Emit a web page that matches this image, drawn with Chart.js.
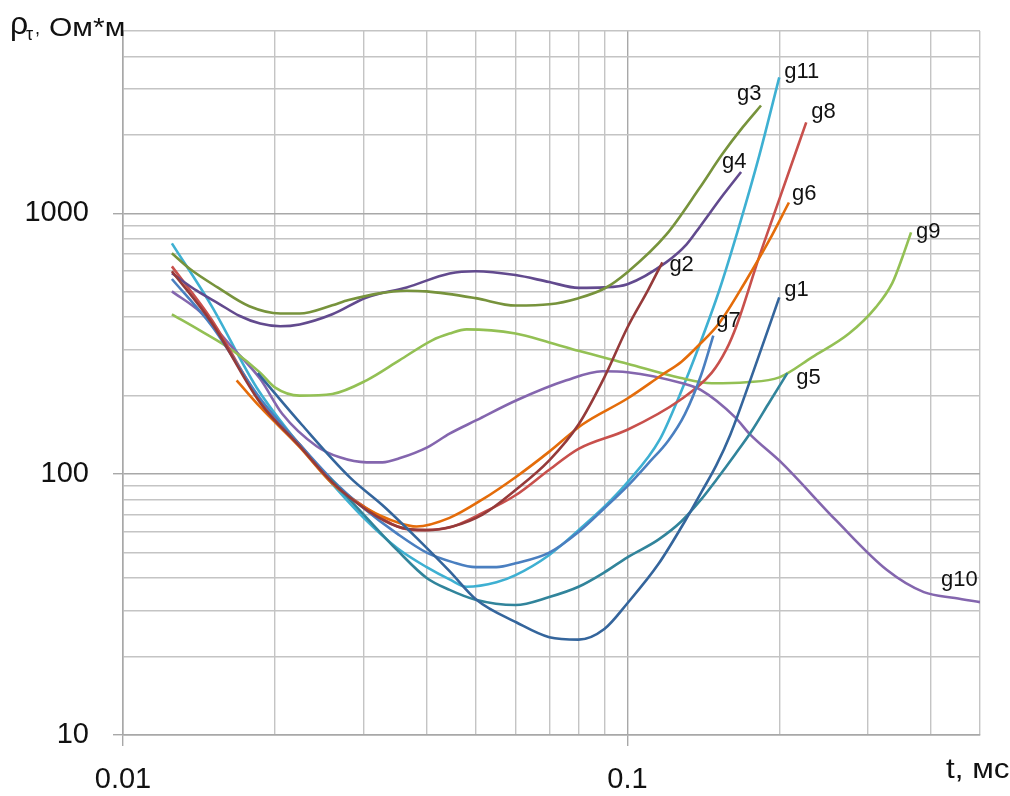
<!DOCTYPE html>
<html><head><meta charset="utf-8">
<script src="https://cdn.jsdelivr.net/npm/chart.js@4.4.1/dist/chart.umd.min.js"></script>
<style>html,body{margin:0;padding:0;background:#fff;}#wrap{width:1010px;height:796px;position:relative;}</style>
</head><body><div id="wrap"><canvas id="c"></canvas></div>
<script>
// ---- axis ticks ----
const xTickValues = [0.01,0.02,0.03,0.04,0.05,0.06,0.07,0.08,0.09,0.1,0.2,0.3,0.4,0.5];
const xLabelValues = [0.01, 0.1];
const xLabelTexts = ['0.01', '0.1'];
const yTickValues = [10,20,30,40,50,60,70,80,90,100,200,300,400,500,600,700,800,900,1000,2000,3000,4000,5000];
const yLabelValues = [10, 100, 1000];
const yLabelTexts = ['10', '100', '1000'];

// ---- series (t in ms, rho in Ohm*m) ----
const seriesNames = ['g1','g2','g3','g4','g5','g6','g7','g8','g9','g10','g11'];
const g1T = [0.0185,0.0226,0.0282,0.0327,0.0382,0.0444,0.0502,0.0603,0.07,0.08,0.09,0.1,0.115,0.13,0.14,0.15,0.16,0.178,0.2];
const g1R = [244,155,97,76,57,42.5,33,27,23.7,23.2,25.5,32,45,66,85,108,142,250,476];
const g2T = [0.0125,0.015,0.0187,0.0224,0.026,0.0304,0.035,0.04,0.045,0.0516,0.06,0.07,0.08,0.09,0.1,0.11,0.1173];
const g2R = [600,380,188,128,93,73,63,61,63,70,87,113,155,235,365,510,649];
const g3T = [0.0125,0.0136,0.0154,0.0178,0.0205,0.0224,0.026,0.028,0.0365,0.04,0.05,0.06,0.07,0.08,0.09,0.1,0.1195,0.139,0.154,0.169,0.184];
const g3R = [703,610,520,440,413,413,444,465,505,502,473,443,448,473,515,595,830,1250,1680,2130,2590];
const g4T = [0.0125,0.014,0.0155,0.017,0.0187,0.0205,0.0224,0.026,0.0304,0.0365,0.0444,0.05,0.06,0.07,0.08,0.09,0.1,0.1195,0.131,0.139,0.155,0.168];
const g4R = [589,505,450,405,378,369,375,410,476,520,588,600,580,545,518,520,535,650,760,885,1180,1440];
const g5T = [0.0257,0.03,0.035,0.04,0.0444,0.05,0.06,0.07,0.08,0.09,0.1,0.115,0.128,0.14,0.15,0.164,0.177,0.19,0.2075];
const g5R = [96.5,70,51,40,36,33,31.5,33.8,37,42,48,56,66,80,95,120,148,185,244];
const g6T = [0.0168,0.0187,0.0224,0.026,0.0304,0.0353,0.0382,0.0444,0.0516,0.0603,0.07,0.0814,0.1,0.117,0.128,0.138,0.152,0.172,0.191,0.209];
const g6R = [229,181,127,92,74,65,63,68,80,98,122,155,195,240,270,310,379,554,787,1100];
const g7T = [0.0125,0.015,0.0187,0.0224,0.026,0.03,0.035,0.04,0.045,0.05,0.055,0.06,0.07,0.08,0.09,0.1,0.11,0.1207,0.13,0.14,0.148];
const g7R = [560,370,195,130,95,74,59,50,46,44,44,45.5,50,60,74,90,110,135,170,240,340];
const g8T = [0.0125,0.015,0.0187,0.0224,0.026,0.0304,0.035,0.0382,0.0444,0.0516,0.06,0.07,0.08,0.1,0.127,0.147,0.157,0.1645,0.1826,0.2,0.2262];
const g8R = [626,390,192,130,93,74,63,61,62.5,71,83,104,125,148,192,245,300,370,684,1131,2232];
const g9T = [0.0125,0.0142,0.0165,0.0187,0.02,0.0224,0.026,0.0304,0.0353,0.041,0.0444,0.048,0.06,0.07,0.08,0.1,0.127,0.147,0.172,0.2,0.2325,0.275,0.311,0.335,0.351,0.365];
const g9R = [410,356,298,245,215,200,203,229,273,326,346,359,346,320,297,265,234,223,225,235,281,346,437,540,680,845];
const g10T = [0.0125,0.0142,0.0165,0.0187,0.0207,0.0242,0.0269,0.0304,0.0327,0.0353,0.0402,0.0444,0.0502,0.0603,0.0757,0.0892,0.1,0.1285,0.14,0.1636,0.1744,0.2027,0.259,0.327,0.387,0.446,0.5];
const g10R = [502,420,305,232,170,128,116,111,111,115,127,143,161,192,229,248,246,223,210,165,143,110,66.6,42.9,35.3,33.5,32.3];
const g11T = [0.0125,0.015,0.0184,0.022,0.025,0.03,0.035,0.04,0.0444,0.048,0.055,0.06,0.07,0.08,0.09,0.1,0.1157,0.1268,0.1389,0.1521,0.1667,0.1826,0.2];
const g11R = [767,440,215,135,100,68,52,44,39.5,37,38.5,41,49,61,75,93,135,200,312,507,899,1668,3320];

// ---- styles (kept apart from data) ----
const seriesColors = ['#34659c','#953a3a','#77933c','#624a8e','#31849b','#e46c0a','#4a7fc0','#c8504c','#93c054','#8466ae','#3eb0d2'];
const labelOffsets = [[5,-1],[7,9],[-24,-6],[-19,-4],[9,11],[3,-3],[3,-9],[5,-4],[5,6],[-39,-16],[5,1]];

const allT = [g1T,g2T,g3T,g4T,g5T,g6T,g7T,g8T,g9T,g10T,g11T];
const allR = [g1R,g2R,g3R,g4R,g5R,g6R,g7R,g8R,g9R,g10R,g11R];

function near(a,b){return Math.abs(a-b) <= Math.abs(b)*1e-6;}
function labelOf(v, vals, texts){for(let i=0;i<vals.length;i++){if(near(v,vals[i]))return texts[i];}return '';}
function isMajor(v, vals){return vals.some(m=>near(v,m));}

const FONT = '"Liberation Sans", Arial, sans-serif';

const textPlugin = {
  id:'texts',
  afterDatasetsDraw(chart){
    const ctx = chart.ctx;
    ctx.save();
    ctx.fillStyle = '#111';
    ctx.textAlign = 'left';
    ctx.textBaseline = 'alphabetic';
    ctx.font = '22px ' + FONT;
    chart.data.datasets.forEach((ds,i)=>{
      const meta = chart.getDatasetMeta(i);
      const p = meta.data[meta.data.length-1];
      ctx.fillText(ds.label, p.x + labelOffsets[i][0], p.y + labelOffsets[i][1]);
    });
    // y title
    ctx.font = '32px ' + FONT;
    ctx.fillText('ρ', 10, 34);
    ctx.font = '18px ' + FONT;
    ctx.fillText('τ', 26, 40);
    ctx.fillText(',', 35, 34);
    ctx.save();
    ctx.translate(49, 36);
    ctx.scale(1.2, 1);
    ctx.font = '25px ' + FONT;
    ctx.fillText('Ом*м', 0, 0);
    ctx.restore();
    // x title
    ctx.save();
    ctx.translate(946, 778);
    ctx.scale(1.12, 1);
    ctx.font = '28px ' + FONT;
    ctx.fillText('t, мс', 0, 0);
    ctx.restore();
    ctx.restore();
  }
};

const datasets = seriesNames.map((name,i)=>({
  label: name,
  data: allT[i].map((t,k)=>({x:t, y:allR[i][k]})),
  borderColor: seriesColors[i],
  backgroundColor: seriesColors[i],
  borderWidth: 2.6,
  pointRadius: 0,
  cubicInterpolationMode: 'monotone',
  fill: false
}));

new Chart(document.getElementById('c'), {
  type: 'line',
  data: { datasets },
  plugins: [textPlugin],
  options: {
    responsive: true,
    maintainAspectRatio: false,
    animation: false,
    layout: { padding: { top: 31, right: 30, left: 0, bottom: 0 } },
    plugins: { legend: { display: false }, tooltip: { enabled: false } },
    scales: {
      x: {
        type: 'logarithmic', min: 0.01, max: 0.5,
        afterBuildTicks: s => { s.ticks = xTickValues.map(v => ({ value: v })); },
        afterFit: s => { s.height = 61; s.paddingLeft = 0; s.paddingRight = 0; },
        ticks: {
          autoSkip: false, maxRotation: 0, minRotation: 0, padding: 17, color: '#111',
          font: { family: FONT, size: 29 },
          callback: v => labelOf(v, xLabelValues, xLabelTexts)
        },
        grid: {
          lineWidth: 1.4, tickLength: 11,
          color: c => isMajor(c.tick.value, xLabelValues) ? '#a8a8a8' : '#c4c4c4',
          tickColor: c => isMajor(c.tick.value, xLabelValues) ? '#a8a8a8' : 'rgba(0,0,0,0)'
        },
        border: { display: true, color: '#a8a8a8', width: 1.5 }
      },
      y: {
        type: 'logarithmic', min: 10, max: 5000,
        afterBuildTicks: s => { s.ticks = yTickValues.map(v => ({ value: v })); },
        afterFit: s => { s.width = 123; s.paddingTop = 0; s.paddingBottom = 0; },
        ticks: {
          autoSkip: false, padding: 24, color: '#111',
          font: { family: FONT, size: 29 },
          callback: v => labelOf(v, yLabelValues, yLabelTexts)
        },
        grid: {
          lineWidth: 1.4, tickLength: 10,
          color: c => isMajor(c.tick.value, yLabelValues) ? '#a8a8a8' : '#c4c4c4',
          tickColor: c => isMajor(c.tick.value, yLabelValues) ? '#a8a8a8' : 'rgba(0,0,0,0)'
        },
        border: { display: true, color: '#a8a8a8', width: 1.5 }
      }
    }
  }
});
</script></body></html>
